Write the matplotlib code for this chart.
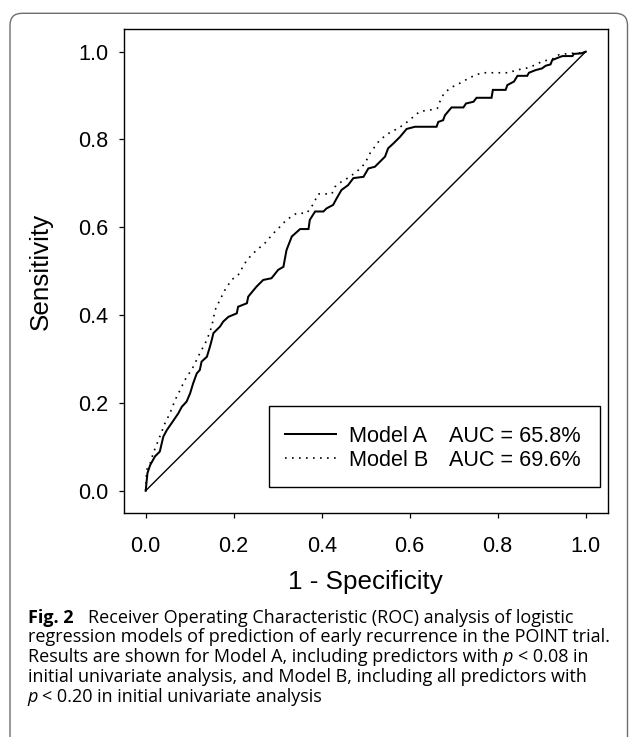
import matplotlib
matplotlib.use("Agg")
import matplotlib.pyplot as plt
from matplotlib.patches import FancyBboxPatch, Rectangle
from matplotlib.lines import Line2D
from matplotlib.transforms import IdentityTransform

# ---------------- data ----------------
fpr_a = [0, .004, .010, .021, .032, .040, .048, .059, .074, .082, .093, .101, .108, .116,
         .123, .127, .139, .146, .150, .154, .169, .176, .188, .207, .210, .230, .233, .252,
         .267, .286, .301, .313, .320, .332, .351, .370, .373, .385, .404, .411, .426, .434,
         .445, .460, .472, .495, .506, .521, .532, .544, .551, .563, .578, .593, .612, .661,
         .665, .676, .680, .695, .722, .728, .745, .752, .786, .789, .818, .822, .837, .845,
         .867, .871, .886, .901, .909, .920, .924, .939, .947, .970, .973, .989, 1.0]
tpr_a = [0, .040, .058, .078, .089, .123, .138, .154, .176, .191, .203, .222, .245, .267,
         .275, .294, .305, .328, .343, .359, .374, .385, .396, .404, .419, .427, .442, .465,
         .480, .484, .503, .510, .548, .579, .596, .596, .617, .636, .636, .643, .651, .666,
         .685, .696, .712, .715, .734, .738, .749, .761, .780, .791, .806, .824, .829, .829,
         .840, .844, .855, .873, .873, .882, .886, .895, .895, .913, .913, .924, .932, .945,
         .945, .952, .958, .962, .968, .971, .981, .987, .990, .990, .995, .996, 1.0]

fpr_b = [0, .002, .010, .017, .032, .044, .055, .067, .078, .089, .108, .123, .139, .150,
         .158, .165, .180, .195, .214, .222, .237, .252, .271, .290, .305, .320, .343, .366,
         .381, .392, .423, .430, .445, .464, .483, .498, .510, .532, .555, .575, .593, .610,
         .623, .646, .663, .670, .678, .693, .710, .735, .750, .765, .826, .841, .864, .886,
         .901, .924, .939, .962, .984, 1.0]
tpr_b = [0, .047, .062, .085, .123, .154, .176, .207, .229, .252, .282, .313, .343, .374,
         .412, .427, .457, .480, .495, .514, .533, .548, .564, .586, .601, .617, .632, .632,
         .653, .676, .676, .692, .704, .715, .730, .745, .769, .799, .816, .826, .839, .853,
         .864, .867, .871, .890, .905, .918, .926, .940, .947, .952, .952, .958, .962, .970,
         .978, .983, .993, .996, .997, 1.0]

diag = [0, 1]
ticks = [0.0, 0.2, 0.4, 0.6, 0.8, 1.0]
tick_labels = ["0.0", "0.2", "0.4", "0.6", "0.8", "1.0"]
model_names = ["Model A", "Model B"]
auc_labels = ["AUC = 65.8%", "AUC = 69.6%"]
xlabel = "1 - Specificity"
ylabel = "Sensitivity"
caption_lines = [
    [("Fig. 2", "bold", "normal"), ("Receiver Operating Characteristic (ROC) analysis of logistic", "normal", "normal")],
    [("regression models of prediction of early recurrence in the POINT trial.", "normal", "normal")],
    [("Results are shown for Model A, including predictors with", "normal", "normal"),
     ("p", "normal", "italic"), ("< 0.08 in", "normal", "normal")],
    [("initial univariate analysis, and Model B, including all predictors with", "normal", "normal")],
    [("p", "normal", "italic"), ("< 0.20 in initial univariate analysis", "normal", "normal")],
]

# ---------------- figure ----------------
W, H = 629, 737
fig = plt.figure(figsize=(W / 100, H / 100), dpi=100)
fig.patch.set_facecolor("white")
sans = ["Liberation Sans", "DejaVu Sans"]

# outer rounded frame (cut off at the bottom)
frame = FancyBboxPatch((10, -40), 617.5, (H - 13.3) + 40,
                       boxstyle="round,pad=0,rounding_size=12",
                       transform=IdentityTransform(), fill=False,
                       edgecolor="#6e6e6e", linewidth=1.0)
fig.patches.append(frame)

ax_l, ax_r, ax_t, ax_b = 123.7, 607.7, 29.3, 513.3
ax = fig.add_axes([ax_l / W, (H - ax_b) / H, (ax_r - ax_l) / W, (ax_b - ax_t) / H])
ax.set_xlim(-0.05, 1.05)
ax.set_ylim(-0.0515, 1.051)

ax.plot(fpr_a, tpr_a, color="black", lw=1.45, solid_joinstyle="miter")
ax.plot(fpr_b, tpr_b, color="black", lw=1.2, linestyle=(0, (1, 3.2)))
ax.plot(diag, diag, color="black", lw=1.0)

ax.set_xticks(ticks)
ax.set_xticklabels(tick_labels)
ax.set_yticks(ticks)
ax.set_yticklabels(tick_labels)
for lab in ax.get_xticklabels() + ax.get_yticklabels():
    lab.set_fontfamily(sans)
    lab.set_fontsize(15.6)
ax.tick_params(axis="both", direction="out", length=3.9, width=0.9, color="black")
ax.tick_params(axis="x", pad=12.3)
ax.tick_params(axis="y", pad=7.0)
for sp in ax.spines.values():
    sp.set_linewidth(1.0)
    sp.set_color("black")

ax.set_xlabel(xlabel, fontsize=18.7, family=sans)
ax.xaxis.label.set_verticalalignment("baseline")
ax.xaxis.set_label_coords(0.5, (ax_b - 589) / (ax_b - ax_t))
ax.set_ylabel(ylabel, fontsize=18.7, family=sans)
ax.yaxis.set_label_coords((53.3 - ax_l) / (ax_r - ax_l), 0.5)

# legend (manual, in axes fraction)
aw, ah = ax_r - ax_l, ax_b - ax_t
def fx(px):
    return (px - ax_l) / aw
def fy(py):
    return (ax_b - py) / ah

ax.add_patch(Rectangle((fx(269), fy(487.3)), fx(600) - fx(269), fy(405.7) - fy(487.3),
                       transform=ax.transAxes, fill=True, facecolor="white",
                       edgecolor="black", lw=1.0, zorder=5))
ax.add_line(Line2D([fx(285), fx(336)], [fy(434), fy(434)], transform=ax.transAxes,
                   color="black", lw=1.45, zorder=6))
ax.add_line(Line2D([fx(285), fx(336)], [fy(457.7), fy(457.7)], transform=ax.transAxes,
                   color="black", lw=1.2, linestyle=(0, (1, 3.2)), zorder=6))
for name, auc, by in zip(model_names, auc_labels, [441.7, 466.0]):
    ax.text(fx(349.4), fy(by), name, transform=ax.transAxes, fontsize=15.6,
            family=sans, va="baseline", ha="left", zorder=6)
    ax.text(fx(449.0), fy(by), auc, transform=ax.transAxes, fontsize=15.6,
            family=sans, va="baseline", ha="left", zorder=6)

# ---------------- caption ----------------
cap_font = ["Open Sans", "DejaVu Sans"]
renderer = fig.canvas.get_renderer()

def text_w(s, size, weight="normal", style="normal"):
    t = fig.text(0, 0, s, fontsize=size, family=cap_font, weight=weight, style=style)
    w = t.get_window_extent(renderer).width
    t.remove()
    return w

base = 12.0
target = 610 - 28
w2 = text_w(caption_lines[1][0][0], base)
csize = base * target / w2
space = text_w("a a", csize) - text_w("aa", csize)

baselines = [622.7, 642.5, 662.3, 682.3, 702.3]
left = 27.5
for li, (pieces, by) in enumerate(zip(caption_lines, baselines)):
    x = left
    for pi, (s, wgt, sty) in enumerate(pieces):
        fig.text(x / W, (H - by) / H, s, fontsize=csize, family=cap_font,
                 weight=wgt, style=sty, va="baseline", ha="left", color="black")
        w = text_w(s, csize, wgt, sty)
        if li == 0 and pi == 0:
            x += w + 14.5
        else:
            x += w + space

fig.savefig("out.png", dpi=100, facecolor="white")
